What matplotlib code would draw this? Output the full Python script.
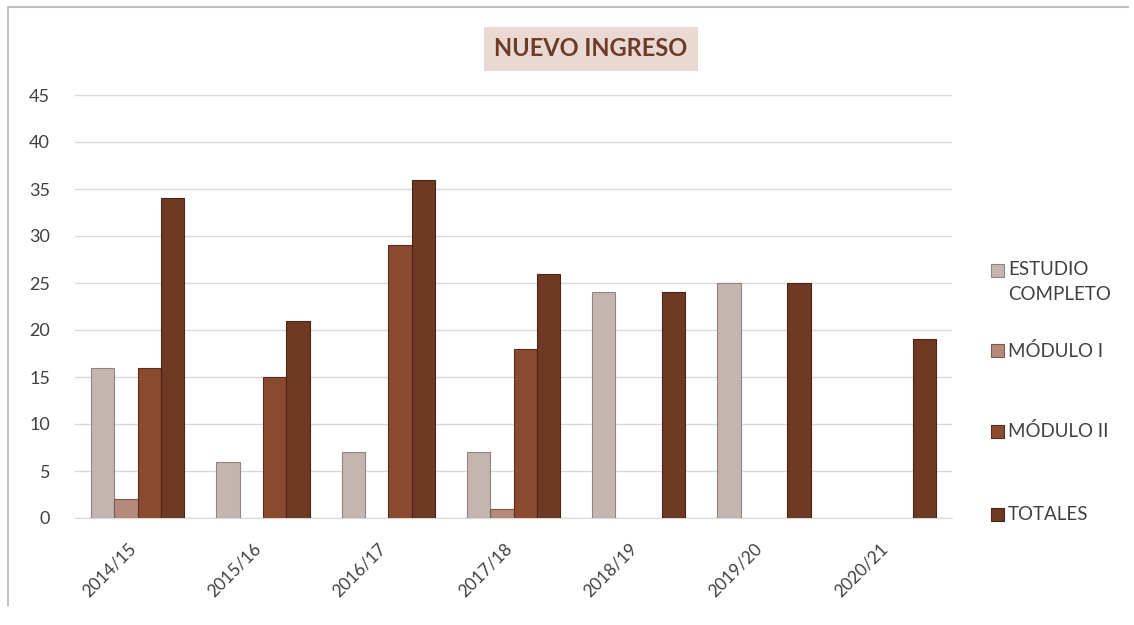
import matplotlib
matplotlib.use("Agg")
import matplotlib.pyplot as plt
import matplotlib.transforms as mtransforms
import numpy as np
from matplotlib.patches import Rectangle
from matplotlib.lines import Line2D

categories = ["2014/15", "2015/16", "2016/17", "2017/18", "2018/19", "2019/20", "2020/21"]
series_names = ["ESTUDIO\nCOMPLETO", "MÓDULO I", "MÓDULO II", "TOTALES"]
estudio_completo = [16, 6, 7, 7, 24, 25, 0]
modulo_1 = [2, 0, 0, 1, 0, 0, 0]
modulo_2 = [16, 15, 29, 18, 0, 0, 0]
totales = [34, 21, 36, 26, 24, 25, 19]
yticks = [0, 5, 10, 15, 20, 25, 30, 35, 40, 45]

series = [estudio_completo, modulo_1, modulo_2, totales]
colors = ["#c4b5b1", "#b58a7b", "#8a4a2f", "#6e3a24"]
edges = ["#8f8480", "#7d5a4e", "#5a2e1b", "#4a2415"]

W, H = 1134, 625
plt.rcParams['font.family'] = ['Lato', 'DejaVu Sans']
fig = plt.figure(figsize=(W / 100, H / 100), dpi=100)
ax = fig.add_axes([75 / W, 1 - 518 / H, 877 / W, 423 / H])

x = np.arange(len(categories))
w = 0.186
offsets = (np.arange(4) - 1.5) * w
for s, vals in enumerate(series):
    v = np.array(vals, dtype=float)
    mask = v > 0
    ax.bar(x[mask] + offsets[s], v[mask], width=w, color=colors[s],
           edgecolor=edges[s], linewidth=0.8, zorder=3)

ax.set_xlim(-0.5, len(categories) - 0.5)
ax.set_ylim(0, 45)
ax.set_yticks(yticks)
ax.set_yticklabels([str(t) for t in yticks], fontsize=13, color="#404040")
ax.set_xticks(x)
ax.set_xticklabels(categories, rotation=45, ha="right", rotation_mode="anchor",
                   fontsize=12.5, color="#404040")
ax.tick_params(axis="y", length=0, pad=18)
ax.tick_params(axis="x", length=0, pad=16)
shift = mtransforms.ScaledTranslation(-10 / 100, 0, fig.dpi_scale_trans)
for lbl in ax.get_xticklabels():
    lbl.set_transform(lbl.get_transform() + shift)
ax.grid(axis="y", color="#d9d9d9", linewidth=1, zorder=0)
for sp in ["top", "right", "left"]:
    ax.spines[sp].set_visible(False)
ax.spines["bottom"].set_color("#d9d9d9")

# legend (manual placement to match the reference spacing)
leg_y = [270, 351, 431, 514]
for s, name in enumerate(series_names):
    yc = leg_y[s]
    fig.patches.append(Rectangle((991 / W, 1 - (yc + 6.5) / H), 13 / W, 13 / H,
                                 transform=fig.transFigure, facecolor=colors[s],
                                 edgecolor=edges[s], linewidth=0.8))
    for k, line in enumerate(name.split("\n")):
        fig.text(1008 / W, 1 - (yc + 25 * k) / H, line, ha="left", va="center",
                 fontsize=13.5, color="#404040")

fig.text(591 / W, 1 - 49 / H, "NUEVO INGRESO", ha="center", va="center",
         fontsize=17, fontweight="bold", color="#6b3c27",
         bbox=dict(boxstyle="square,pad=0.45", facecolor="#ead9d2", edgecolor="none"))

fig.lines.append(Line2D([8 / W, 8 / W, 1128 / W], [1 - 605 / H, 1 - 7 / H, 1 - 7 / H],
                        transform=fig.transFigure, color="#c0c0c0", linewidth=1.5))

fig.savefig("out.png", dpi=100)
